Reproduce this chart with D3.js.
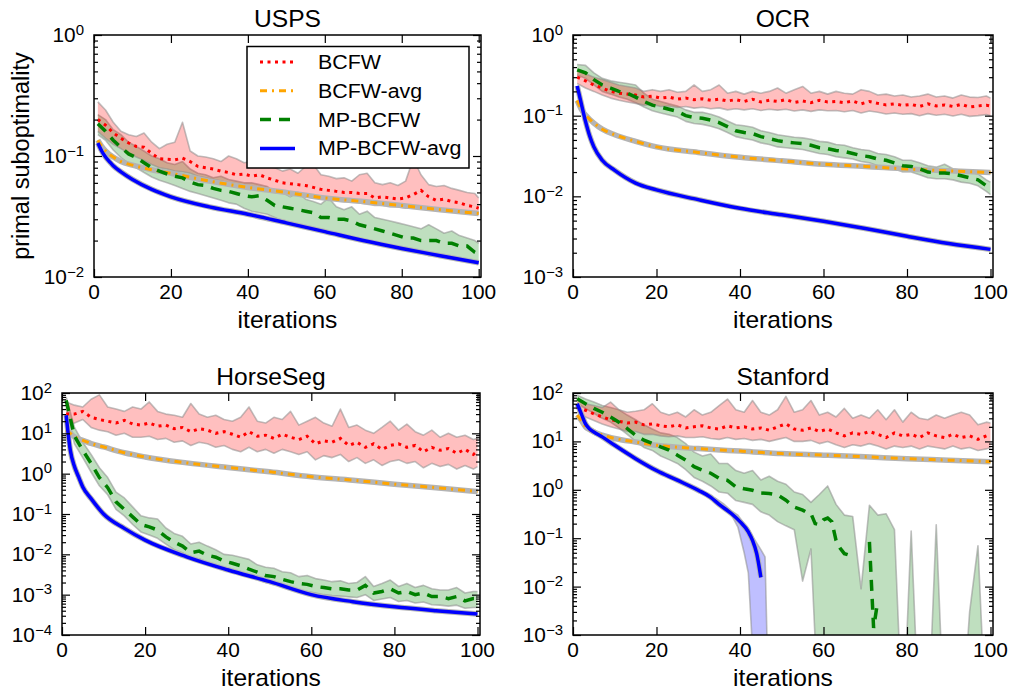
<!DOCTYPE html>
<html>
<head>
<meta charset="utf-8">
<script src="https://cdn.jsdelivr.net/npm/d3@7"></script>
<style>
  body { margin: 0; background: #fff; }
  text { font-family: "Liberation Sans", Arial, sans-serif; fill: #000; }
</style>
</head>
<body>
<svg id="chart" width="1010" height="690"></svg>
<script>
// iterations where the noisy runs were sampled (every 2nd) and where the smooth averages were read
const noisyIters = d3.range(1, 100, 2).concat([100]);
const smoothIters = [1, 2, 3, 4, 5, 7, 10, 15, 20, 30, 40, 50, 60, 70, 80, 90, 100];
const xTicks = [0, 20, 40, 60, 80, 100];
const seriesNames = ['BCFW', 'BCFW-avg', 'MP-BCFW', 'MP-BCFW-avg'];

// ---- USPS ----
const uspsBcfw = [0.20, 0.18, 0.155, 0.14, 0.128, 0.12, 0.118, 0.105, 0.095, 0.094,
  0.093, 0.096, 0.09, 0.082, 0.08, 0.078, 0.075, 0.073, 0.07, 0.071,
  0.068, 0.07, 0.066, 0.063, 0.06, 0.059, 0.058, 0.057, 0.055, 0.053,
  0.052, 0.051, 0.05, 0.05, 0.049, 0.049, 0.045, 0.046, 0.045, 0.044,
  0.045, 0.048, 0.052, 0.046, 0.043, 0.044, 0.042, 0.041, 0.039, 0.038, 0.037];
const uspsBcfwHi = [0.28, 0.24, 0.19, 0.16, 0.15, 0.145, 0.155, 0.13, 0.115, 0.125,
  0.13, 0.19, 0.11, 0.1, 0.098, 0.095, 0.09, 0.1, 0.095, 0.088,
  0.09, 0.085, 0.082, 0.08, 0.075, 0.078, 0.072, 0.082, 0.085, 0.07,
  0.068, 0.065, 0.066, 0.062, 0.07, 0.072, 0.06, 0.058, 0.06, 0.057,
  0.062, 0.095, 0.07, 0.058, 0.056, 0.057, 0.054, 0.052, 0.05, 0.049, 0.045];
const uspsBcfwLo = [0.16, 0.14, 0.125, 0.115, 0.105, 0.098, 0.092, 0.085, 0.08, 0.078,
  0.075, 0.074, 0.072, 0.068, 0.066, 0.064, 0.062, 0.06, 0.059, 0.057,
  0.056, 0.055, 0.053, 0.052, 0.05, 0.049, 0.048, 0.047, 0.046, 0.045,
  0.044, 0.043, 0.042, 0.042, 0.041, 0.04, 0.039, 0.039, 0.038, 0.038,
  0.037, 0.038, 0.038, 0.037, 0.036, 0.036, 0.035, 0.035, 0.034, 0.034, 0.033];
const uspsMp = [0.185, 0.16, 0.135, 0.118, 0.104, 0.097, 0.088, 0.08, 0.075, 0.071,
  0.068, 0.066, 0.061, 0.058, 0.057, 0.054, 0.052, 0.051, 0.049, 0.047,
  0.046, 0.047, 0.043, 0.039, 0.038, 0.037, 0.036, 0.035, 0.034, 0.031,
  0.031, 0.03, 0.03, 0.029, 0.027, 0.026, 0.025, 0.024, 0.023, 0.022,
  0.021, 0.021, 0.02, 0.02, 0.02, 0.019, 0.019, 0.018, 0.018, 0.016, 0.0155];
const uspsMpHi = [0.22, 0.2, 0.165, 0.15, 0.13, 0.12, 0.11, 0.1, 0.095, 0.088,
  0.085, 0.09, 0.078, 0.072, 0.07, 0.066, 0.068, 0.064, 0.062, 0.06,
  0.06, 0.058, 0.056, 0.05, 0.05, 0.046, 0.05, 0.044, 0.042, 0.04,
  0.045, 0.038, 0.036, 0.038, 0.033, 0.035, 0.031, 0.03, 0.029, 0.028,
  0.027, 0.026, 0.025, 0.027, 0.025, 0.023, 0.024, 0.022, 0.021, 0.02, 0.019];
const uspsMpLo = [0.15, 0.135, 0.112, 0.097, 0.087, 0.08, 0.073, 0.067, 0.063, 0.06,
  0.057, 0.054, 0.051, 0.049, 0.047, 0.045, 0.043, 0.041, 0.04, 0.037,
  0.035, 0.034, 0.033, 0.031, 0.029, 0.0285, 0.027, 0.026, 0.025, 0.024,
  0.0235, 0.0225, 0.022, 0.021, 0.0205, 0.0195, 0.019, 0.0185, 0.018, 0.017,
  0.0168, 0.016, 0.0158, 0.015, 0.015, 0.0145, 0.0142, 0.014, 0.0137, 0.0134, 0.013];
const uspsBcfwAvg = [0.135, 0.12, 0.11, 0.103, 0.098, 0.09, 0.084, 0.077, 0.072, 0.062, 0.055, 0.05, 0.045, 0.042, 0.039, 0.036, 0.0335];
const uspsMpAvg = [0.128, 0.11, 0.098, 0.09, 0.083, 0.074, 0.064, 0.053, 0.046, 0.038, 0.033, 0.028, 0.0237, 0.02, 0.0172, 0.015, 0.0131];

// ---- OCR ----
const ocrBcfw = [0.30, 0.27, 0.24, 0.22, 0.2, 0.19, 0.185, 0.18, 0.17, 0.175,
  0.165, 0.17, 0.16, 0.165, 0.158, 0.162, 0.155, 0.16, 0.152, 0.158,
  0.15, 0.16, 0.148, 0.155, 0.15, 0.158, 0.146, 0.152, 0.145, 0.155,
  0.148, 0.15, 0.145, 0.152, 0.14, 0.15, 0.142, 0.136, 0.14, 0.134,
  0.138, 0.13, 0.14, 0.132, 0.136, 0.13, 0.138, 0.128, 0.132, 0.135, 0.132];
const ocrBcfwHi = [0.36, 0.33, 0.3, 0.28, 0.26, 0.24, 0.23, 0.22, 0.2, 0.21,
  0.2, 0.21, 0.195, 0.2, 0.24, 0.2, 0.21, 0.24, 0.19, 0.2,
  0.185, 0.2, 0.19, 0.2, 0.22, 0.19, 0.21, 0.23, 0.19, 0.2,
  0.185, 0.2, 0.19, 0.185, 0.21, 0.2, 0.18, 0.185, 0.175, 0.18,
  0.17, 0.175, 0.185, 0.17, 0.175, 0.165, 0.18, 0.17, 0.168, 0.175, 0.165];
const ocrBcfwLo = [0.25, 0.22, 0.2, 0.18, 0.165, 0.155, 0.148, 0.142, 0.135, 0.138,
  0.13, 0.132, 0.126, 0.13, 0.124, 0.127, 0.122, 0.125, 0.118, 0.122,
  0.118, 0.122, 0.116, 0.12, 0.117, 0.12, 0.114, 0.118, 0.113, 0.118,
  0.115, 0.116, 0.112, 0.116, 0.108, 0.114, 0.11, 0.105, 0.108, 0.104,
  0.106, 0.1, 0.106, 0.101, 0.104, 0.099, 0.104, 0.098, 0.1, 0.103, 0.1];
const ocrMp = [0.37, 0.34, 0.28, 0.24, 0.22, 0.2, 0.19, 0.17, 0.15, 0.135,
  0.128, 0.12, 0.113, 0.1, 0.095, 0.093, 0.088, 0.082, 0.073, 0.065,
  0.062, 0.06, 0.055, 0.052, 0.049, 0.047, 0.046, 0.045, 0.043, 0.04,
  0.039, 0.037, 0.036, 0.034, 0.032, 0.031, 0.029, 0.028, 0.026, 0.024,
  0.0235, 0.022, 0.02, 0.0195, 0.0195, 0.019, 0.018, 0.017, 0.016, 0.0135, 0.0125];
const ocrMpHi = [0.43, 0.42, 0.34, 0.29, 0.27, 0.26, 0.25, 0.24, 0.19, 0.16,
  0.15, 0.14, 0.132, 0.118, 0.11, 0.11, 0.104, 0.096, 0.086, 0.077,
  0.075, 0.072, 0.065, 0.062, 0.058, 0.056, 0.054, 0.053, 0.051, 0.048,
  0.047, 0.044, 0.043, 0.04, 0.038, 0.037, 0.034, 0.033, 0.031, 0.028,
  0.028, 0.026, 0.024, 0.023, 0.025, 0.022, 0.021, 0.02, 0.019, 0.016, 0.015];
const ocrMpLo = [0.32, 0.29, 0.24, 0.2, 0.185, 0.17, 0.16, 0.145, 0.128, 0.115,
  0.108, 0.102, 0.096, 0.085, 0.08, 0.078, 0.074, 0.069, 0.062, 0.055,
  0.052, 0.05, 0.046, 0.044, 0.041, 0.04, 0.039, 0.038, 0.036, 0.034,
  0.033, 0.031, 0.03, 0.029, 0.027, 0.026, 0.024, 0.023, 0.022, 0.02,
  0.02, 0.0185, 0.017, 0.0165, 0.0165, 0.016, 0.015, 0.0145, 0.0135, 0.0115, 0.0105];
const ocrBcfwAvg = [0.155, 0.12, 0.102, 0.09, 0.081, 0.068, 0.058, 0.048, 0.041, 0.035, 0.0305, 0.0276, 0.025, 0.0235, 0.0218, 0.0207, 0.0198];
const ocrMpAvg = [0.234, 0.14, 0.085, 0.056, 0.041, 0.028, 0.021, 0.0146, 0.012, 0.0091, 0.0071, 0.0059, 0.0049, 0.004, 0.0032, 0.0026, 0.0022];

// ---- HorseSeg ----
const horseBcfw = [30, 30, 35, 25, 22, 20, 18, 21, 17, 16,
  18, 15, 16, 13, 14, 11, 13, 12, 10, 11,
  9.5, 8, 11, 8.5, 9, 7.5, 9.5, 8, 7, 8.5,
  5.5, 6.5, 6, 7.5, 5, 6, 4.5, 5.5, 4, 5,
  5.5, 4.5, 5, 3.5, 4.5, 3.8, 4.2, 3.2, 4, 3, 3.6];
const horseBcfwHi = [60, 50, 45, 70, 90, 45, 40, 35, 45, 40,
  60, 35, 30, 28, 25, 55, 30, 25, 28, 22,
  20, 25, 45, 20, 18, 25, 22, 35, 16, 20,
  25, 18, 15, 40, 14, 16, 12, 10, 14, 20,
  12, 17, 11, 9, 12, 8, 10, 8, 9, 7, 7.5];
const horseBcfwLo = [15, 18, 22, 14, 12, 11, 9, 10, 8, 8,
  8.5, 7, 7.5, 6, 6.5, 5, 6, 5.5, 4.5, 5,
  4, 3.5, 4.5, 3.5, 4, 3.2, 4, 3.5, 3, 3.5,
  2.2, 2.8, 2.5, 3, 2, 2.5, 1.8, 2.2, 1.6, 2,
  2.2, 1.8, 2, 1.4, 1.8, 1.5, 1.7, 1.3, 1.6, 1.3, 1.5];
const horseMp = [66, 8.5, 3.8, 1.8, 0.8, 0.45, 0.2, 0.13, 0.085, 0.055,
  0.048, 0.04, 0.027, 0.02, 0.016, 0.011, 0.012, 0.0095, 0.0085, 0.0068,
  0.006, 0.0052, 0.0043, 0.0036, 0.003, 0.0028, 0.0024, 0.0021, 0.0019, 0.0018,
  0.0016, 0.0015, 0.0014, 0.0014, 0.0013, 0.0013, 0.0017, 0.0011, 0.0012, 0.0014,
  0.0011, 0.0012, 0.001, 0.0011, 0.0009, 0.0009, 0.0008, 0.0009, 0.0007, 0.0008, 0.0008];
const horseMpHi = [80, 14, 6, 3, 1.4, 0.8, 0.35, 0.25, 0.15, 0.09,
  0.08, 0.075, 0.045, 0.033, 0.028, 0.018, 0.02, 0.016, 0.013, 0.01,
  0.0095, 0.0085, 0.0075, 0.0055, 0.0048, 0.0045, 0.0037, 0.0035, 0.0028, 0.003,
  0.0025, 0.0023, 0.0021, 0.0022, 0.0019, 0.002, 0.0028, 0.0016, 0.0019, 0.0023,
  0.0016, 0.0019, 0.0015, 0.0017, 0.0014, 0.0013, 0.0013, 0.0015, 0.0011, 0.0012, 0.0012];
const horseMpLo = [45, 5.5, 2.5, 1.1, 0.5, 0.3, 0.13, 0.09, 0.055, 0.036,
  0.03, 0.025, 0.018, 0.013, 0.011, 0.0075, 0.0078, 0.0062, 0.0055, 0.0044,
  0.0039, 0.0034, 0.0028, 0.0024, 0.002, 0.0018, 0.0016, 0.0014, 0.0012, 0.0012,
  0.0011, 0.001, 0.00095, 0.00092, 0.00088, 0.00085, 0.001, 0.00072, 0.00078, 0.00085,
  0.00068, 0.00072, 0.00062, 0.00066, 0.00056, 0.00055, 0.00052, 0.00055, 0.00046, 0.00048, 0.00048];
const horseBcfwAvg = [12, 10, 8.2, 7.3, 6.7, 5.6, 4.6, 3.3, 2.6, 1.85, 1.42, 1.11, 0.84, 0.69, 0.55, 0.45, 0.36];
const horseMpAvg = [28, 3.8, 1.5, 0.83, 0.47, 0.24, 0.1, 0.044, 0.0225, 0.0087, 0.0041, 0.0021, 0.001, 0.00067, 0.0005, 0.0004, 0.00033];

// ---- Stanford ----
const stanBcfw = [51, 44, 37, 32, 28, 26, 24, 25, 22, 23,
  21, 20, 22, 19, 20, 21, 19, 18, 21, 19,
  20, 18, 19, 17, 20, 23, 18, 17, 19, 16,
  18, 15, 13, 15, 14, 16, 14, 12, 15, 13,
  14, 12, 15, 13, 12, 14, 12, 13, 11, 13, 14];
const stanBcfwHi = [75, 60, 55, 50, 65, 45, 40, 42, 45, 60,
  40, 35, 40, 32, 45, 35, 40, 55, 75, 45,
  40, 70, 40, 35, 45, 85, 40, 45, 70, 35,
  40, 32, 48, 30, 35, 30, 45, 28, 45, 25,
  40, 30, 28, 35, 30, 35, 40, 35, 22, 25, 24];
const stanBcfwLo = [40, 32, 27, 23, 20, 18, 16, 16, 14, 14,
  13, 12.5, 13, 12, 12, 12.5, 11.5, 11, 12, 11,
  11.5, 10.5, 11, 10, 11, 12, 10, 10, 10.5, 9,
  10, 8.5, 7.5, 8.5, 8, 9, 8, 7, 8, 7.5,
  8, 7, 8, 7.5, 7, 8, 7, 7.5, 6.5, 7, 7.5];
// the MP-BCFW run on Stanford hits zero (no value on a log axis) from iteration 68 on
const stanMpIters = [1, 3, 5, 7, 9, 11, 13, 15, 17, 19, 21, 23, 25, 27, 29, 31, 33, 35, 37, 39,
  41, 43, 45, 47, 49, 51, 53, 55, 56, 57, 58, 59, 60, 61, 62, 63, 64, 65, 66, 67,
  68, 69, 70, 71, 72, 73];
const stanMp = [76, 60, 48, 40, 32, 25, 18.4, 13.4, 10.6, 9.1, 7.7, 6.6, 5.2, 4.1, 3.0, 2.54, 2.2, 1.72, 1.57, 1.15,
  1.05, 0.98, 0.86, 0.84, 0.78, 0.61, 0.44, 0.38, 0.34, 0.32, 0.2, 0.19, 0.24, 0.26, 0.22, 0.09, 0.062, 0.048, 0.045, 0.053,
  null, null, null, 0.084, 0.0014, 0.005];
const stanMpHi = [90, 75, 65, 55, 50, 45, 35, 28, 22, 18,
  15, 14, 12, 9, 6, 5, 5.5, 3.5, 3.5, 2.5,
  2.2, 2.5, 1.6, 1.9, 1.5, 1.3, 0.9, 0.8, 0.55, 0.8,
  1.2, 0.5, 0.3, 0.28, 0.009, 0.48, 0.3, 0.32, 0.15, 1e-5,
  0.14, 1e-5, 1e-5, 0.19, 1e-5, 1e-5, 1e-5, 0.003, 0.07, 1e-5, 1e-5];
const stanMpLo = [60, 48, 38, 30, 25, 19, 14, 10, 7.5, 6.5,
  5, 4.2, 3.5, 2.6, 1.8, 1.5, 1.2, 0.9, 0.85, 0.6,
  0.55, 0.5, 0.35, 0.3, 0.22, 0.18, 0.15, 0.013, 0.06, 1e-5,
  1e-5, 1e-5, 1e-5, 1e-5, 1e-5, 1e-5, 1e-5, 1e-5, 1e-5, 1e-5,
  1e-5, 1e-5, 1e-5, 1e-5, 1e-5, 1e-5, 1e-5, 1e-5, 1e-5, 1e-5, 1e-5];
const stanBcfwAvg = [35, 27, 20, 17.5, 15.7, 13.5, 11.5, 9.7, 8.3, 7.1, 6.3, 5.6, 5.2, 4.8, 4.4, 4.1, 3.8];
const stanMpAvgIters = [1, 2, 3, 4, 5, 7, 10, 15, 20, 25, 30, 33, 35, 38, 40, 42, 43, 44, 45];
const stanMpAvg = [60, 37, 23, 18, 15.7, 12.4, 8.3, 4.4, 2.5, 1.58, 0.98, 0.7, 0.5, 0.32, 0.22, 0.135, 0.09, 0.048, 0.0155];
const stanMpAvgBandIters = [34, 36, 38, 39.5, 41, 42, 43, 44, 45, 46, 47];
const stanMpAvgLo = [0.6, 0.45, 0.3, 0.17, 0.05, 0.019, 0.0005, 1e-5, 1e-5, 1e-5, 1e-5];
const stanMpAvgHi = [0.68, 0.52, 0.36, 0.3, 0.2, 0.16, 0.11, 0.08, 0.058, 0.041, 1e-5];

const styles = {
  'BCFW': { color: '#ff0000', width: 3, dash: '3,4.5' },
  'BCFW-avg': { color: '#ffa500', width: 3, dash: '7,5,2,5' },
  'MP-BCFW': { color: '#008000', width: 3.5, dash: '11,8' },
  'MP-BCFW-avg': { color: '#0000ff', width: 3.5, dash: null }
};

const panels = [
  { title: 'USPS', left: 94, right: 481, top: 35, bottom: 277, yDomain: [1e-2, 1],
    bands: [
      { name: 'MP-BCFW', iters: noisyIters, lo: uspsMpLo, hi: uspsMpHi },
      { name: 'BCFW', iters: noisyIters, lo: uspsBcfwLo, hi: uspsBcfwHi }],
    lines: [
      { name: 'BCFW', iters: noisyIters, v: uspsBcfw },
      { name: 'BCFW-avg', iters: smoothIters, v: uspsBcfwAvg, smooth: true },
      { name: 'MP-BCFW', iters: noisyIters, v: uspsMp },
      { name: 'MP-BCFW-avg', iters: smoothIters, v: uspsMpAvg, smooth: true }] },
  { title: 'OCR', left: 573, right: 993, top: 35, bottom: 277, yDomain: [1e-3, 1],
    bands: [
      { name: 'MP-BCFW', iters: noisyIters, lo: ocrMpLo, hi: ocrMpHi },
      { name: 'BCFW', iters: noisyIters, lo: ocrBcfwLo, hi: ocrBcfwHi }],
    lines: [
      { name: 'BCFW', iters: noisyIters, v: ocrBcfw },
      { name: 'BCFW-avg', iters: smoothIters, v: ocrBcfwAvg, smooth: true },
      { name: 'MP-BCFW', iters: noisyIters, v: ocrMp },
      { name: 'MP-BCFW-avg', iters: smoothIters, v: ocrMpAvg, smooth: true }] },
  { title: 'HorseSeg', left: 62, right: 480, top: 393, bottom: 635, yDomain: [1e-4, 1e2],
    bands: [
      { name: 'MP-BCFW', iters: noisyIters, lo: horseMpLo, hi: horseMpHi },
      { name: 'BCFW', iters: noisyIters, lo: horseBcfwLo, hi: horseBcfwHi }],
    lines: [
      { name: 'BCFW', iters: noisyIters, v: horseBcfw },
      { name: 'BCFW-avg', iters: smoothIters, v: horseBcfwAvg, smooth: true },
      { name: 'MP-BCFW', iters: noisyIters, v: horseMp },
      { name: 'MP-BCFW-avg', iters: smoothIters, v: horseMpAvg, smooth: true }] },
  { title: 'Stanford', left: 573, right: 993, top: 393, bottom: 635, yDomain: [1e-3, 1e2],
    bands: [
      { name: 'MP-BCFW', iters: noisyIters, lo: stanMpLo, hi: stanMpHi },
      { name: 'BCFW', iters: noisyIters, lo: stanBcfwLo, hi: stanBcfwHi },
      { name: 'MP-BCFW-avg', iters: stanMpAvgBandIters, lo: stanMpAvgLo, hi: stanMpAvgHi }],
    lines: [
      { name: 'BCFW', iters: noisyIters, v: stanBcfw },
      { name: 'BCFW-avg', iters: smoothIters, v: stanBcfwAvg, smooth: true },
      { name: 'MP-BCFW', iters: stanMpIters, v: stanMp },
      { name: 'MP-BCFW-avg', iters: stanMpAvgIters, v: stanMpAvg, smooth: true }] }
];

const SX = 1.07; // the source picture is a little wider than tall
const svg = d3.select('#chart');

function txt(parent, x, y, s, size, anchor) {
  return parent.append('text')
    .attr('transform', `translate(${x},${y}) scale(${SX},1)`)
    .attr('text-anchor', anchor || 'middle')
    .style('font-size', size + 'px')
    .text(s);
}

panels.forEach((p, i) => {
  const x = d3.scaleLinear().domain([0, 100.6]).range([p.left, p.right]);
  const y = d3.scaleLog().domain(p.yDomain).range([p.bottom, p.top]);

  svg.append('clipPath').attr('id', 'clip' + i)
    .append('rect')
      .attr('x', p.left).attr('y', p.top)
      .attr('width', p.right - p.left).attr('height', p.bottom - p.top);
  const plot = svg.append('g').attr('clip-path', `url(#clip${i})`);

  // std bands
  p.bands.forEach(b => {
    const pts = b.iters.map((it, j) => [it, b.lo[j], b.hi[j]]);
    plot.append('path')
      .attr('d', d3.area().x(d => x(d[0])).y0(d => y(d[1])).y1(d => y(d[2]))(pts))
      .attr('fill', styles[b.name].color)
      .attr('fill-opacity', 0.25);
    [1, 2].forEach(k => {
      plot.append('path')
        .attr('d', d3.line().x(d => x(d[0])).y(d => y(d[k]))(pts))
        .attr('fill', 'none')
        .attr('stroke', '#8c8c8c')
        .attr('stroke-opacity', 0.55)
        .attr('stroke-width', 1.6)
        .attr('stroke-linejoin', 'round');
    });
  });

  // grey halo of the (very narrow) bands round the averaged runs
  p.lines.filter(l => l.smooth).forEach(l => {
    const pts = l.iters.map((it, j) => [it, l.v[j]]);
    plot.append('path')
      .attr('d', d3.line().curve(d3.curveMonotoneX).x(d => x(d[0])).y(d => y(d[1]))(pts))
      .attr('fill', 'none')
      .attr('stroke', '#b4b4b4')
      .attr('stroke-width', 5.5);
  });

  // mean curves
  p.lines.forEach(l => {
    const st = styles[l.name];
    const pts = l.iters.map((it, j) => [it, l.v[j]]);
    const line = d3.line()
      .defined(d => d[1] != null)
      .curve(l.smooth ? d3.curveMonotoneX : d3.curveLinear)
      .x(d => x(d[0])).y(d => y(d[1]));
    plot.append('path')
      .attr('d', line(pts))
      .attr('fill', 'none')
      .attr('stroke', st.color)
      .attr('stroke-width', st.width)
      .attr('stroke-dasharray', st.dash);
  });

  // axes: inward ticks on all four sides
  const all = y.ticks();
  const isMajor = v => Math.abs(Math.log10(v) - Math.round(Math.log10(v))) < 1e-6;
  const yMajor = all.filter(isMajor);
  const yMinor = all.filter(v => !isMajor(v));
  const ax = svg.append('g').attr('class', 'axes');
  const add = (axis, tx, ty) => {
    const g = ax.append('g').attr('transform', `translate(${tx},${ty})`).call(axis.tickFormat(''));
    g.select('.domain').remove();
    g.selectAll('line').attr('stroke', '#000').attr('stroke-width', 1.2);
  };
  add(d3.axisLeft(y).tickValues(yMajor).tickSize(-8), p.left, 0);
  add(d3.axisLeft(y).tickValues(yMinor).tickSize(-4), p.left, 0);
  add(d3.axisRight(y).tickValues(yMajor).tickSize(-8), p.right, 0);
  add(d3.axisRight(y).tickValues(yMinor).tickSize(-4), p.right, 0);
  add(d3.axisBottom(x).tickValues(xTicks).tickSize(-8), 0, p.bottom);
  add(d3.axisTop(x).tickValues(xTicks).tickSize(-8), 0, p.top);

  ax.append('rect')
    .attr('x', p.left).attr('y', p.top)
    .attr('width', p.right - p.left).attr('height', p.bottom - p.top)
    .attr('fill', 'none').attr('stroke', '#000').attr('stroke-width', 1.5);

  // tick labels
  xTicks.forEach(t => txt(ax, x(t), p.bottom + 22, String(t), 19.5, 'middle'));
  yMajor.forEach(v => {
    const e = Math.round(Math.log10(v));
    const t = ax.append('text')
      .attr('transform', `translate(${p.left - 10},${y(v) + 7}) scale(${SX},1)`)
      .attr('text-anchor', 'end')
      .style('font-size', '19.5px');
    t.append('tspan').text('10');
    t.append('tspan').attr('dy', -7.5).style('font-size', '14px').text(e < 0 ? '\u2212' + (-e) : String(e));
  });

  txt(svg, (p.left + p.right) / 2, p.top - 8, p.title, 23, 'middle');
  txt(svg, (p.left + p.right) / 2, p.bottom + 51, 'iterations', 23, 'middle');
});

// y label (first panel only)
svg.append('text')
  .attr('transform', 'translate(29,156) rotate(-90)')
  .attr('text-anchor', 'middle')
  .style('font-size', '23.5px')
  .text('primal suboptimality');

// legend inside the USPS panel
const lg = svg.append('g');
lg.append('rect')
  .attr('x', 247).attr('y', 46.5).attr('width', 222).attr('height', 121.5)
  .attr('fill', '#fff').attr('stroke', '#000').attr('stroke-width', 1.5);
seriesNames.forEach((name, k) => {
  const st = styles[name];
  const cy = 62 + k * 28.8;
  lg.append('line')
    .attr('x1', 260).attr('x2', 295).attr('y1', cy).attr('y2', cy)
    .attr('stroke', st.color).attr('stroke-width', st.width)
    .attr('stroke-dasharray', st.dash);
  txt(lg, 318, cy + 7, name, 20, 'start');
});
</script>
</body>
</html>
